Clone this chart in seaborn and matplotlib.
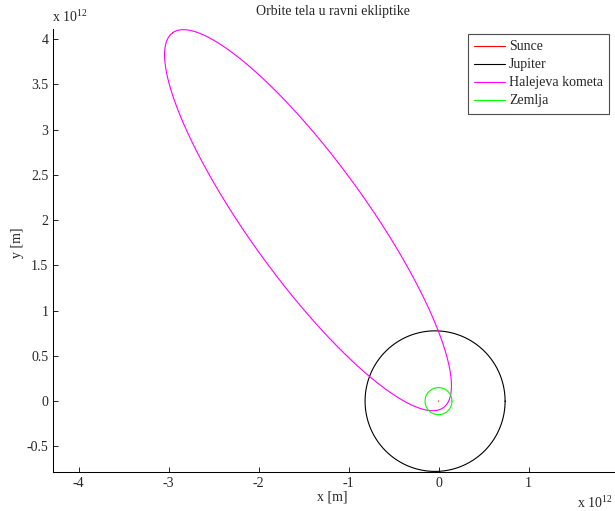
import numpy as np
import pandas as pd
import seaborn as sns
import matplotlib.pyplot as plt
from matplotlib.ticker import FuncFormatter, FixedLocator

sns.set_style('ticks', {'xtick.direction': 'in', 'ytick.direction': 'in'})
plt.rcParams['font.family'] = ['Liberation Serif', 'DejaVu Serif']
plt.rcParams['mathtext.fontset'] = 'custom'
plt.rcParams['mathtext.rm'] = 'Liberation Serif'
plt.rcParams['axes.unicode_minus'] = False

# orbits projected to the ecliptic plane [m]
names = ['Sunce', 'Jupiter', 'Halejeva kometa', 'Zemlja']
colors = ['#ff0000', '#000000', '#ff00ff', '#00ff00']
semi_major = [7.4e8, 7.78e11, 2.56e12, 1.496e11]
semi_minor = [7.4e8, 7.77e11, 0.65e12, 1.496e11]
center_x = [0.0, -3.8e10, -1.45e12, 0.0]
center_y = [0.0, 0.0, 2.0e12, 0.0]
tilt_deg = [0.0, 0.0, 126.0, 0.0]

xticks = [-4e12, -3e12, -2e12, -1e12, 0, 1e12]
yticks = [-0.5e12, 0, 0.5e12, 1e12, 1.5e12, 2e12, 2.5e12, 3e12, 3.5e12, 4e12]

FS = 10


def orbit_df(i, n=1500):
    t = np.linspace(0, 2 * np.pi, n)
    phi = np.deg2rad(tilt_deg[i])
    ex = semi_major[i] * np.cos(t)
    ey = semi_minor[i] * np.sin(t)
    x = center_x[i] + ex * np.cos(phi) - ey * np.sin(phi)
    y = center_y[i] + ex * np.sin(phi) + ey * np.cos(phi)
    return pd.DataFrame({'x': x, 'y': y})


fig = plt.figure(figsize=(6.15, 5.11), dpi=100)
ax = fig.add_axes([53.3 / 615, 1 - 471.7 / 511, (614 - 53.3) / 615, (471.7 - 29.3) / 511])

for i, name in enumerate(names):
    sns.lineplot(data=orbit_df(i), x='x', y='y', sort=False, estimator=None,
                 color=colors[i], lw=0.8, label=name, ax=ax)

ax.set_xlim(-4.28e12, 1.95e12)
ax.set_ylim(-0.78e12, 4.11e12)
ax.xaxis.set_major_locator(FixedLocator(xticks))
ax.yaxis.set_major_locator(FixedLocator(yticks))
fmt = FuncFormatter(lambda v, p: '%g' % (v / 1e12))
ax.xaxis.set_major_formatter(fmt)
ax.yaxis.set_major_formatter(fmt)
ax.tick_params(length=3.6, width=0.6, color='black', labelsize=FS, pad=3.5)
ax.set_xlabel('')
ax.set_ylabel('')

sns.despine(ax=ax)
for s in ['left', 'bottom']:
    ax.spines[s].set_color('black')
    ax.spines[s].set_linewidth(0.75)

leg = ax.legend(loc='upper right', fontsize=FS, frameon=True, fancybox=False,
                edgecolor='0.3', framealpha=1, handlelength=2.2, handletextpad=0.3,
                labelspacing=0.36, borderpad=0.45, borderaxespad=0.35)
leg.get_frame().set_linewidth(0.8)

fig.text(333 / 615, 1 - 12 / 511, 'Orbite tela u ravni ekliptike', ha='center', va='center', fontsize=FS)
fig.text(332 / 615, 1 - 497 / 511, 'x [m]', ha='center', va='center', fontsize=FS)
fig.text(18 / 615, 1 - 243 / 511, 'y [m]', ha='center', va='center', rotation=90, fontsize=FS)
fig.text(52 / 615, 1 - 22 / 511, 'x 10$^{12}$', ha='left', va='baseline', fontsize=FS)
fig.text(613 / 615, 1 - 508 / 511, 'x 10$^{12}$', ha='right', va='baseline', fontsize=FS)

fig.savefig('out.png', dpi=100)
